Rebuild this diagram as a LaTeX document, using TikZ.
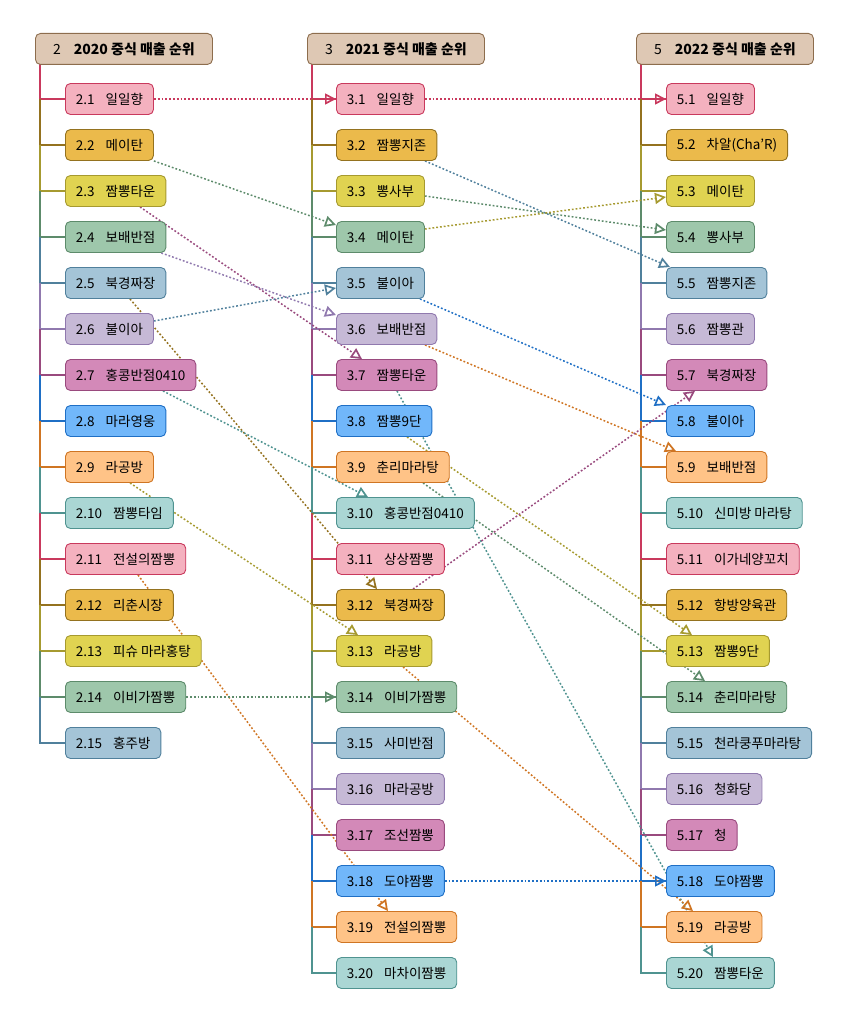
\documentclass[tikz,border=0pt]{standalone}
\usepackage{fontspec}
\setmainfont{Noto Sans CJK KR}
\usetikzlibrary{arrows.meta,calc,backgrounds}
\definecolor{f1}{HTML}{F4B1BF}\definecolor{d1}{HTML}{C9395D}
\definecolor{f2}{HTML}{EBBA4B}\definecolor{d2}{HTML}{94721F}
\definecolor{f3}{HTML}{E0D351}\definecolor{d3}{HTML}{A69A30}
\definecolor{f4}{HTML}{9EC7AB}\definecolor{d4}{HTML}{5D8B6B}
\definecolor{f5}{HTML}{A4C4D7}\definecolor{d5}{HTML}{50809C}
\definecolor{f6}{HTML}{C6B9D6}\definecolor{d6}{HTML}{9079AE}
\definecolor{f7}{HTML}{D389B8}\definecolor{d7}{HTML}{994A7E}
\definecolor{f8}{HTML}{71B7FA}\definecolor{d8}{HTML}{1F6FC5}
\definecolor{f9}{HTML}{FFC387}\definecolor{d9}{HTML}{CF7523}
\definecolor{f10}{HTML}{AAD6D4}\definecolor{d10}{HTML}{4F9390}
\definecolor{hdF}{HTML}{DEC8B4}\definecolor{hdD}{HTML}{8D6D4D}
\begin{document}
\begin{tikzpicture}[x=1pt,y=1pt,
  item/.style={draw, rounded corners=5pt, line width=0.9pt, minimum height=31pt,
    inner xsep=10.5pt, inner ysep=0pt, anchor=west, text=black,
    font=\fontsize{13.5}{15}\selectfont},
  hdr/.style={draw=hdD, fill=hdF, rounded corners=5pt, line width=0.9pt,
    minimum height=31pt, minimum width=177pt, inner ysep=0pt, anchor=north west,
    text=black, font=\fontsize{14}{15}\selectfont},
  c1/.style={fill=f1,draw=d1}, c2/.style={fill=f2,draw=d2}, c3/.style={fill=f3,draw=d3},
  c4/.style={fill=f4,draw=d4}, c5/.style={fill=f5,draw=d5}, c6/.style={fill=f6,draw=d6},
  c7/.style={fill=f7,draw=d7}, c8/.style={fill=f8,draw=d8}, c9/.style={fill=f9,draw=d9},
  c10/.style={fill=f10,draw=d10},
  trunkline/.style={line width=1.3pt},
  conn/.style={line width=1.5pt, dash pattern=on 1.8pt off 2pt,
    -{Triangle[open,length=11pt,width=11pt,line width=1.7pt]}},
]
\useasboundingbox (0,0) rectangle (853,-1022);

% headers
\node[hdr] (h1) at (35,-33) {2\hspace{13pt}\textbf{2020 중식 매출 순위}};
\node[hdr] (h2) at (307,-33) {3\hspace{13pt}\textbf{2021 중식 매출 순위}};
\node[hdr] (h3) at (636,-33) {5\hspace{13pt}\textbf{2022 중식 매출 순위}};

% column 2020
\foreach \t [count=\i] in {일일향,메이탄,짬뽕타운,보배반점,북경짜장,불이아,홍콩반점0410,마라영웅,라공방,짬뽕타임,전설의짬뽕,리춘시장,피슈 마라홍탕,이비가짬뽕,홍주방} {
  \pgfmathtruncatemacro\k{mod(\i-1,10)+1}
  \node[item, c\k] (a\i) at (65,{-99-46*(\i-1)}) {2.\i\hspace{11pt}\t};
}
% column 2021
\foreach \t [count=\i] in {일일향,짬뽕지존,뽕사부,메이탄,불이아,보배반점,짬뽕타운,짬뽕9단,춘리마라탕,홍콩반점0410,상상짬뽕,북경짜장,라공방,이비가짬뽕,사미반점,마라공방,조선짬뽕,도야짬뽕,전설의짬뽕,마차이짬뽕} {
  \pgfmathtruncatemacro\k{mod(\i-1,10)+1}
  \node[item, c\k] (b\i) at (336,{-99-46*(\i-1)}) {3.\i\hspace{11pt}\t};
}
% column 2022
\foreach \t [count=\i] in {일일향,차알(Cha'R),메이탄,뽕사부,짬뽕지존,짬뽕관,북경짜장,불이아,보배반점,신미방 마라탕,이가네양꼬치,항방양육관,짬뽕9단,춘리마라탕,천라쿵푸마라탕,청화당,청,도야짬뽕,라공방,짬뽕타운} {
  \pgfmathtruncatemacro\k{mod(\i-1,10)+1}
  \node[item, c\k] (c\i) at (666,{-99-46*(\i-1)}) {5.\i\hspace{11pt}\t};
}

\begin{pgfonlayer}{background}
% trunks
\foreach \col/\x/\n in {a/40/15,b/312/20,c/641/20} {
  \foreach \i in {1,...,\n} {
    \pgfmathtruncatemacro\k{mod(\i-1,10)+1}
    \pgfmathsetmacro\yp{\i==1 ? -64.5 : -99-46*(\i-2)}
    \draw[trunkline, d\k] (\x,\yp) -- (\x,{-99-46*(\i-1)}) -- (\col\i.west);
  }
}
% 2020 -> 2021
\draw[conn, d1] (a1.east) -- (b1.west);
\draw[conn, d4] (a2.south east) -- ($(b4.west)+(0,12)$);
\draw[conn, d7] ($(a3.south west)+(75,0)$) -- ($(b7.north west)+(26,0)$);
\draw[conn, d6] ($(a4.south east)+(-5,0)$) -- ($(b6.north west)+(0,-2)$);
\draw[conn, d2] ($(a5.south west)+(65,0)$) -- ($(b12.north west)+(41,0)$);
\draw[conn, d5] ($(a6.east)+(0,8)$) -- ($(b5.west)+(0,-5)$);
\draw[conn, d10] ($(a7.south west)+(98,0)$) -- ($(b10.north west)+(32,0)$);
\draw[conn, d3] ($(a9.south west)+(65,0)$) -- ($(b13.north west)+(22,0)$);
\draw[conn, d9] ($(a11.south west)+(73,0)$) -- ($(b19.north west)+(52,0)$);
\draw[conn, d4] (a14.east) -- (b14.west);
% 2021 -> 2022
\draw[conn, d1] (b1.east) -- (c1.west);
\draw[conn, d5] ($(b2.south west)+(89,0)$) -- ($(c5.north west)+(4,0)$);
\draw[conn, d4] ($(b3.east)+(0,-5)$) -- ($(c4.west)+(0,7)$);
\draw[conn, d3] ($(b4.east)+(0,8)$) -- ($(c3.west)+(0,-6)$);
\draw[conn, d8] ($(b5.south west)+(84,0)$) -- (c8.north west);
\draw[conn, d9] ($(b6.south west)+(89,0)$) -- ($(c9.north west)+(10,0)$);
\draw[conn, d10] ($(b7.south west)+(61,0)$) -- ($(c20.north west)+(47,0)$);
\draw[conn, d3] ($(b8.south west)+(71,0)$) -- ($(c13.north west)+(26,0)$);
\draw[conn, d4] ($(b9.south west)+(87,0)$) -- ($(c14.north west)+(39,0)$);
\draw[conn, d7] ($(b12.north west)+(77,0)$) -- ($(c7.south west)+(29,0)$);
\draw[conn, d9] ($(b13.south west)+(67,0)$) -- ($(c19.north west)+(27,0)$);
\draw[conn, d8] (b18.east) -- (c18.west);
\end{pgfonlayer}
\end{tikzpicture}
\end{document}
